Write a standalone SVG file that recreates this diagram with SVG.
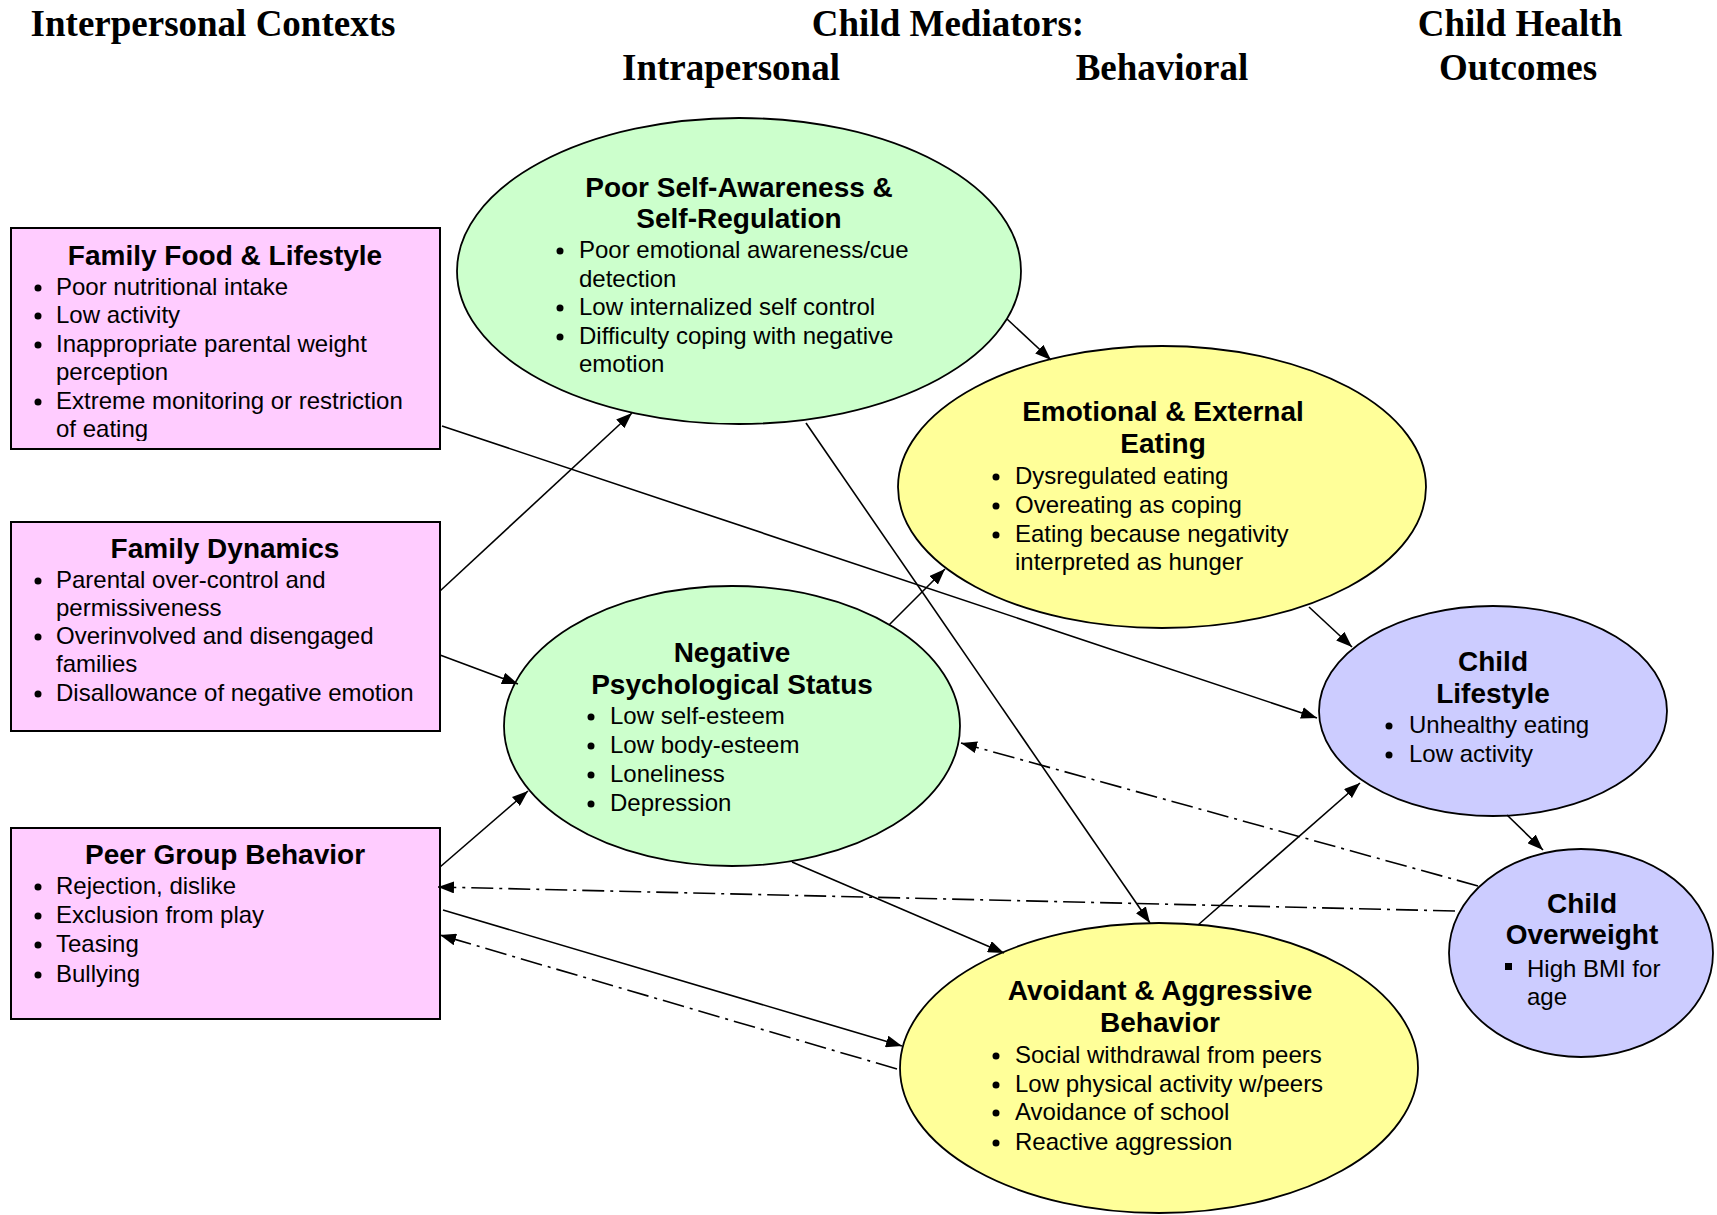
<svg xmlns="http://www.w3.org/2000/svg" width="1717" height="1215" viewBox="0 0 1717 1215">
<style>
.hdr{font-family:"Liberation Serif","Times New Roman",serif;font-weight:bold;font-size:37px;fill:#000;text-anchor:middle}
.ttl{font-family:"Liberation Sans",Arial,sans-serif;font-weight:bold;font-size:28px;fill:#000;text-anchor:middle}
.txt{font-family:"Liberation Sans",Arial,sans-serif;font-size:24px;fill:#000}
.box{fill:#FFCCFF;stroke:#000;stroke-width:2}
.green{fill:#CCFFCC;stroke:#000;stroke-width:1.8}
.yellow{fill:#FFFF99;stroke:#000;stroke-width:1.8}
.blue{fill:#CCCCFF;stroke:#000;stroke-width:1.8}
.bul{fill:#000}
.ln{stroke:#000;stroke-width:1.6;fill:none;marker-end:url(#ah)}
.dash{stroke-dasharray:22 6 3 6}
</style>
<defs>
<marker id="ah" markerWidth="16" markerHeight="12" refX="16" refY="6" orient="auto" markerUnits="userSpaceOnUse">
<path d="M0,0 L16,6 L0,12 z" fill="#000"/>
</marker>
<clipPath id="ffclip"><rect x="11" y="228" width="430" height="213"/></clipPath>
</defs>

<g id="headers">
<text class="hdr" x="213" y="36">Interpersonal Contexts</text>
<text class="hdr" x="948" y="36">Child Mediators:</text>
<text class="hdr" x="1520" y="36">Child Health</text>
<text class="hdr" x="731" y="80">Intrapersonal</text>
<text class="hdr" x="1162" y="80">Behavioral</text>
<text class="hdr" x="1518" y="80">Outcomes</text>
</g>

<g id="family-food">
<rect class="box" x="11" y="228" width="429" height="221"/>
<text class="ttl" x="225" y="265">Family Food &amp; Lifestyle</text>
<g clip-path="url(#ffclip)">
<circle class="bul" cx="38" cy="288" r="3.5"/>
<text class="txt" x="56" y="295">Poor nutritional intake</text>
<circle class="bul" cx="38" cy="316" r="3.5"/>
<text class="txt" x="56" y="323">Low activity</text>
<circle class="bul" cx="38" cy="345" r="3.5"/>
<text class="txt" x="56" y="352">Inappropriate parental weight</text>
<text class="txt" x="56" y="380">perception</text>
<circle class="bul" cx="38" cy="402" r="3.5"/>
<text class="txt" x="56" y="409">Extreme monitoring or restriction</text>
<text class="txt" x="56" y="437">of eating</text>
</g>
</g>

<g id="family-dynamics">
<rect class="box" x="11" y="522" width="429" height="209"/>
<text class="ttl" x="225" y="558">Family Dynamics</text>
<circle class="bul" cx="38" cy="581" r="3.5"/>
<text class="txt" x="56" y="588">Parental over-control and</text>
<text class="txt" x="56" y="616">permissiveness</text>
<circle class="bul" cx="38" cy="637" r="3.5"/>
<text class="txt" x="56" y="644">Overinvolved and disengaged</text>
<text class="txt" x="56" y="672">families</text>
<circle class="bul" cx="38" cy="694" r="3.5"/>
<text class="txt" x="56" y="701">Disallowance of negative emotion</text>
</g>

<g id="peer-group">
<rect class="box" x="11" y="828" width="429" height="191"/>
<text class="ttl" x="225" y="864">Peer Group Behavior</text>
<circle class="bul" cx="38" cy="887" r="3.5"/>
<text class="txt" x="56" y="894">Rejection, dislike</text>
<circle class="bul" cx="38" cy="916" r="3.5"/>
<text class="txt" x="56" y="923">Exclusion from play</text>
<circle class="bul" cx="38" cy="945" r="3.5"/>
<text class="txt" x="56" y="952">Teasing</text>
<circle class="bul" cx="38" cy="975" r="3.5"/>
<text class="txt" x="56" y="982">Bullying</text>
</g>

<g id="poor-self-awareness">
<ellipse class="green" cx="739" cy="271" rx="282" ry="153"/>
<text class="ttl" x="739" y="197">Poor Self-Awareness &amp;</text>
<text class="ttl" x="739" y="228">Self-Regulation</text>
<circle class="bul" cx="560" cy="251" r="3.5"/>
<text class="txt" x="579" y="258">Poor emotional awareness/cue</text>
<text class="txt" x="579" y="287">detection</text>
<circle class="bul" cx="560" cy="308" r="3.5"/>
<text class="txt" x="579" y="315">Low internalized self control</text>
<circle class="bul" cx="560" cy="337" r="3.5"/>
<text class="txt" x="579" y="344">Difficulty coping with negative</text>
<text class="txt" x="579" y="372">emotion</text>
</g>

<g id="emotional-eating">
<ellipse class="yellow" cx="1162" cy="487" rx="264" ry="141"/>
<text class="ttl" x="1163" y="421">Emotional &amp; External</text>
<text class="ttl" x="1163" y="453">Eating</text>
<circle class="bul" cx="996" cy="477" r="3.5"/>
<text class="txt" x="1015" y="484">Dysregulated eating</text>
<circle class="bul" cx="996" cy="506" r="3.5"/>
<text class="txt" x="1015" y="513">Overeating as coping</text>
<circle class="bul" cx="996" cy="535" r="3.5"/>
<text class="txt" x="1015" y="542">Eating because negativity</text>
<text class="txt" x="1015" y="570">interpreted as hunger</text>
</g>

<g id="negative-psych">
<ellipse class="green" cx="732" cy="726" rx="228" ry="140"/>
<text class="ttl" x="732" y="662">Negative</text>
<text class="ttl" x="732" y="694">Psychological Status</text>
<circle class="bul" cx="591" cy="717" r="3.5"/>
<text class="txt" x="610" y="724">Low self-esteem</text>
<circle class="bul" cx="591" cy="746" r="3.5"/>
<text class="txt" x="610" y="753">Low body-esteem</text>
<circle class="bul" cx="591" cy="775" r="3.5"/>
<text class="txt" x="610" y="782">Loneliness</text>
<circle class="bul" cx="591" cy="804" r="3.5"/>
<text class="txt" x="610" y="811">Depression</text>
</g>

<g id="avoidant-aggressive">
<ellipse class="yellow" cx="1159" cy="1068" rx="259" ry="145"/>
<text class="ttl" x="1160" y="1000">Avoidant &amp; Aggressive</text>
<text class="ttl" x="1160" y="1032">Behavior</text>
<circle class="bul" cx="996" cy="1056" r="3.5"/>
<text class="txt" x="1015" y="1063">Social withdrawal from peers</text>
<circle class="bul" cx="996" cy="1085" r="3.5"/>
<text class="txt" x="1015" y="1092">Low physical activity w/peers</text>
<circle class="bul" cx="996" cy="1113" r="3.5"/>
<text class="txt" x="1015" y="1120">Avoidance of school</text>
<circle class="bul" cx="996" cy="1143" r="3.5"/>
<text class="txt" x="1015" y="1150">Reactive aggression</text>
</g>

<g id="child-lifestyle">
<ellipse class="blue" cx="1493" cy="711" rx="174" ry="105"/>
<text class="ttl" x="1493" y="671">Child</text>
<text class="ttl" x="1493" y="703">Lifestyle</text>
<circle class="bul" cx="1389" cy="726" r="3.5"/>
<text class="txt" x="1409" y="733">Unhealthy eating</text>
<circle class="bul" cx="1389" cy="755" r="3.5"/>
<text class="txt" x="1409" y="762">Low activity</text>
</g>

<g id="child-overweight">
<ellipse class="blue" cx="1581" cy="953" rx="132" ry="104"/>
<text class="ttl" x="1582" y="913">Child</text>
<text class="ttl" x="1582" y="944">Overweight</text>
<rect class="bul" x="1505" y="963" width="7" height="7"/>
<text class="txt" x="1527" y="977">High BMI for</text>
<text class="txt" x="1527" y="1005">age</text>
</g>

<g id="connectors">
<line class="ln" x1="1007" y1="319" x2="1051" y2="360"/>
<line class="ln" x1="806" y1="423" x2="1150" y2="923"/>
<line class="ln" x1="442" y1="426" x2="1317" y2="718"/>
<line class="ln" x1="440" y1="591" x2="632" y2="413"/>
<line class="ln" x1="440" y1="655" x2="518" y2="684"/>
<line class="ln" x1="889" y1="625" x2="945" y2="569"/>
<line class="ln" x1="792" y1="862" x2="1004" y2="953"/>
<line class="ln" x1="1309" y1="607" x2="1352" y2="647"/>
<line class="ln" x1="1198" y1="925" x2="1360" y2="783"/>
<line class="ln" x1="1507" y1="815" x2="1543" y2="850"/>
<line class="ln" x1="440" y1="867" x2="528" y2="791"/>
<line class="ln" x1="443" y1="910" x2="902" y2="1046"/>
<line class="ln dash" x1="1478" y1="886" x2="961" y2="743"/>
<line class="ln dash" x1="1455" y1="911" x2="438" y2="887"/>
<line class="ln dash" x1="897" y1="1069" x2="440" y2="935"/>
</g>
</svg>
